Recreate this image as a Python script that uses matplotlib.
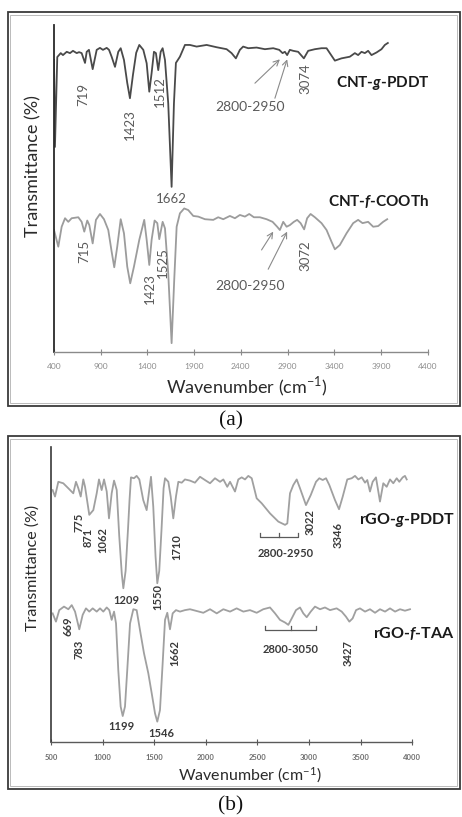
import numpy as np
import matplotlib
matplotlib.use("Agg")
import matplotlib.pyplot as plt
from matplotlib.patches import Rectangle

plt.rcParams['font.family'] = ['Lato', 'DejaVu Sans']
plt.rcParams['mathtext.fontset'] = 'custom'
plt.rcParams['mathtext.rm'] = 'Lato'
plt.rcParams['mathtext.it'] = 'Lato:italic:bold'

# ---------------- panel (a) data: CNT samples ----------------
a_ticks = [400, 900, 1400, 1900, 2400, 2900, 3400, 3900, 4400]

cnt_pddt_wn = [400, 410, 435, 472, 496, 536, 571, 603, 643, 668,
               696, 732, 750, 774, 814, 857, 892, 924, 964, 989,
               1017, 1053, 1088, 1114, 1149, 1184, 1213, 1245, 1280, 1313,
               1356, 1392, 1420, 1445, 1470, 1491, 1516, 1542, 1563, 1588,
               1623, 1659, 1684, 1705, 1748, 1802, 1855, 1927, 2034, 2141,
               2248, 2301, 2347, 2390, 2425, 2479, 2569, 2658, 2747, 2811,
               2847, 2872, 2896, 2925, 2961, 3014, 3075, 3121, 3193, 3264,
               3318, 3353, 3407, 3478, 3567, 3621, 3656, 3692, 3728, 3763,
               3799, 3853, 3906, 3942, 3974]
cnt_pddt_t = [89.3, 62.7, 90.2, 91.4, 90.8, 91.8, 91.4, 92.1, 91.4, 91.7,
              91.4, 88.4, 91.8, 92.4, 86.5, 92.4, 93.0, 92.4, 93.0, 92.4,
              90.3, 87.2, 91.8, 92.9, 89.3, 82.3, 77.6, 84.7, 91.5, 93.9,
              92.4, 88.3, 79.6, 85.3, 91.8, 91.4, 86.2, 91.8, 92.9, 89.3,
              76.0, 50.5, 76.0, 88.4, 90.3, 93.9, 93.9, 93.4, 93.9, 93.2,
              92.6, 91.4, 89.8, 92.4, 93.4, 92.9, 93.1, 92.6, 92.9, 92.4,
              91.4, 91.8, 90.8, 92.4, 92.1, 91.8, 89.8, 92.1, 92.6, 92.9,
              92.9, 91.4, 89.1, 89.8, 90.3, 91.4, 90.8, 91.8, 91.4, 92.1,
              90.8, 91.6, 92.6, 93.9, 94.5]

cnt_cooth_wn = [400, 446, 482, 518, 553, 589, 660, 696, 724, 756,
                778, 814, 849, 892, 935, 981, 1017, 1045, 1077, 1114,
                1149, 1184, 1216, 1256, 1313, 1366, 1392, 1420, 1445, 1477,
                1506, 1527, 1563, 1588, 1623, 1659, 1687, 1713, 1748, 1794,
                1837, 1891, 1944, 2016, 2105, 2158, 2212, 2283, 2337, 2390,
                2444, 2490, 2540, 2604, 2676, 2740, 2789, 2818, 2854, 2890,
                2925, 2968, 3003, 3040, 3078, 3110, 3147, 3193, 3264, 3318,
                3371, 3407, 3460, 3532, 3603, 3656, 3703, 3763, 3817, 3870,
                3924, 3967]
cnt_cooth_t = [37.3, 32.2, 38.3, 40.9, 39.8, 40.9, 41.2, 39.8, 36.8, 40.2,
               38.8, 33.2, 40.4, 42.2, 40.6, 37.3, 30.7, 25.9, 32.2, 40.6,
               36.3, 26.1, 21.0, 26.1, 34.3, 40.4, 34.3, 26.6, 34.3, 40.2,
               39.4, 34.5, 39.8, 37.8, 24.0, 2.7, 22.0, 38.3, 42.4, 43.9,
               43.4, 41.6, 41.4, 40.6, 40.4, 41.2, 40.6, 41.6, 40.9, 41.9,
               41.4, 42.2, 41.2, 41.2, 40.6, 39.8, 38.3, 37.3, 39.8, 38.3,
               38.8, 39.8, 40.4, 39.4, 37.5, 40.9, 42.2, 41.2, 39.4, 37.3,
               33.7, 31.4, 32.7, 36.3, 39.4, 40.4, 39.4, 39.8, 38.3, 38.5,
               39.8, 40.6]

# peak labels (text, x, y, rotation)
a_top_labels = ["719", "1423", "1512", "1662", "3074"]
a_top_lx = [710, 1213, 1534, 1659, 3096]
a_top_ly = [78.7, 69.4, 79.5, 46.8, 83.6]
a_top_rot = [90, 90, 90, 0, 90]

a_bot_labels = ["715", "1423", "1525", "3072"]
a_bot_lx = [721, 1427, 1570, 3096]
a_bot_ly = [30.6, 19.3, 27.2, 29.4]

# ---------------- panel (b) data: rGO samples ----------------
b_ticks = [500, 1000, 1500, 2000, 2500, 3000, 3500, 4000]

rgo_pddt_wn = [515, 538, 570, 618, 667, 715, 741, 764, 787, 812,
               829, 870, 909, 942, 964, 990, 1013, 1039, 1061, 1087,
               1110, 1136, 1160, 1185, 1200, 1222, 1245, 1260, 1274, 1303,
               1329, 1355, 1393, 1426, 1451, 1468, 1490, 1512, 1529, 1548,
               1570, 1590, 1604, 1636, 1659, 1684, 1710, 1733, 1766, 1797,
               1846, 1894, 1943, 1991, 2040, 2088, 2137, 2169, 2207, 2234,
               2282, 2314, 2347, 2379, 2411, 2444, 2492, 2541, 2621, 2702,
               2767, 2789, 2815, 2847, 2880, 2912, 2970, 3016, 3067, 3099,
               3132, 3164, 3196, 3251, 3290, 3326, 3370, 3413, 3445, 3477,
               3510, 3542, 3564, 3590, 3616, 3648, 3687, 3719, 3752, 3784,
               3816, 3849, 3874, 3907, 3929, 3946]
rgo_pddt_t = [85.4, 83.2, 88.2, 87.7, 86.0, 84.3, 88.2, 86.0, 83.2, 89.0,
              86.5, 77.0, 78.6, 84.3, 89.0, 85.4, 89.0, 84.9, 75.8, 84.3,
              88.6, 85.4, 70.0, 57.0, 52.1, 58.0, 72.0, 82.0, 89.7, 89.4,
              90.2, 89.0, 82.0, 78.6, 85.4, 89.9, 79.8, 63.0, 53.8, 58.0,
              72.0, 86.0, 89.4, 88.2, 83.2, 75.8, 83.2, 88.2, 87.9, 89.0,
              88.6, 87.9, 89.9, 88.8, 87.7, 89.4, 88.2, 89.0, 86.5, 88.2,
              84.9, 89.0, 89.7, 89.0, 90.2, 89.4, 82.6, 80.9, 77.5, 74.7,
              73.6, 74.1, 84.3, 87.1, 89.0, 86.0, 80.3, 83.7, 88.2, 89.4,
              88.8, 89.4, 87.1, 82.0, 78.9, 83.2, 89.0, 89.4, 90.2, 89.0,
              89.7, 87.9, 88.8, 84.9, 88.2, 89.7, 81.5, 87.7, 86.5, 89.0,
              87.7, 89.4, 88.2, 89.7, 90.2, 89.0]

rgo_taa_wn = [515, 547, 579, 625, 667, 700, 732, 773, 806, 838,
              870, 903, 942, 974, 1006, 1039, 1064, 1087, 1110, 1129,
              1151, 1174, 1194, 1216, 1238, 1265, 1297, 1329, 1361, 1400,
              1442, 1475, 1507, 1529, 1555, 1581, 1604, 1626, 1652, 1678,
              1710, 1749, 1797, 1846, 1911, 1975, 2040, 2105, 2169, 2234,
              2298, 2363, 2427, 2492, 2556, 2621, 2670, 2718, 2767, 2799,
              2832, 2873, 2912, 2944, 2977, 3016, 3057, 3106, 3154, 3203,
              3267, 3316, 3357, 3390, 3422, 3455, 3493, 3542, 3590, 3639,
              3687, 3736, 3784, 3833, 3881, 3929, 3978]
rgo_taa_t = [43.6, 40.8, 44.7, 45.9, 45.0, 46.4, 44.2, 38.2, 43.1, 45.3,
             44.2, 45.3, 44.2, 45.3, 44.2, 45.6, 44.7, 41.4, 44.2, 40.2,
             24.4, 12.0, 8.8, 12.0, 24.4, 40.2, 45.0, 44.7, 38.0, 30.1,
             23.3, 16.5, 9.7, 6.9, 10.8, 26.7, 41.4, 43.8, 38.2, 43.6,
             44.7, 44.2, 44.7, 45.0, 44.4, 43.8, 45.0, 43.6, 45.0, 44.2,
             45.3, 44.2, 44.7, 43.8, 45.0, 45.6, 43.6, 41.4, 40.5, 39.7,
             41.9, 44.7, 45.6, 43.6, 42.3, 44.2, 45.9, 45.0, 45.6, 44.7,
             45.3, 44.2, 42.5, 40.8, 41.9, 44.7, 45.3, 44.2, 45.0, 43.8,
             45.0, 44.2, 45.3, 44.2, 45.0, 44.5, 45.0]

b_top_labels = ["775", "871", "1062", "1209", "1539", "1710", "3022", "3346"]
b_top_labels[4] = "1550"
b_top_lx = [774, 860, 1006, 1226, 1539, 1717, 3009, 3283]
b_top_ly = [74.6, 69.5, 68.5, 48.1, 49.0, 66.0, 74.6, 70.0]
b_top_rot = [90, 90, 90, 0, 90, 90, 90, 90]

b_bot_labels = ["669", "783", "1199", "1546", "1662", "3427"]
b_bot_lx = [667, 770, 1184, 1572, 1700, 3380]
b_bot_ly = [39.3, 31.5, 5.1, 3.0, 30.2, 30.2]
b_bot_rot = [90, 90, 0, 0, 90, 90]

# bracket spans for band regions in (b): (start, end, level)
b_bands = ["2800-2950", "2800-3050"]
b_band_x0 = [2521, 2573]
b_band_x1 = [2893, 3067]
b_band_y = [69.6, 38.0]
b_band_text_x = [2776, 2816]
b_band_text_y = [63.9, 31.4]

fig = plt.figure(figsize=(4.62, 8.17), dpi=100)

# panel frames
for y0, h in [(0.503, 0.4823), (0.0343, 0.432)]:
    fig.patches.append(Rectangle((0.017, y0), 0.978, h, transform=fig.transFigure,
                                 fill=False, ec='#3a3a3a', lw=1.3))
    fig.patches.append(Rectangle((0.022, y0 + 0.0035), 0.968, h - 0.007,
                                 transform=fig.transFigure, fill=False, ec='#b0b0b0', lw=0.6))

# ---- panel (a) ----
ax = fig.add_axes([0.1169, 0.5692, 0.8087, 0.4002])
ax.plot(cnt_pddt_wn, cnt_pddt_t, color='#4a4a4a', lw=1.3)
ax.plot(cnt_cooth_wn, cnt_cooth_t, color='#9c9c9c', lw=1.3)
ax.set_xlim(400, 4400)
ax.set_ylim(0, 100)
ax.set_xticks(a_ticks)
ax.set_yticks([])
for s in ['top', 'right']:
    ax.spines[s].set_visible(False)
ax.spines['left'].set_color('#2a2a2a')
ax.spines['left'].set_linewidth(1.3)
ax.spines['bottom'].set_color('#8a8a8a')
ax.spines['bottom'].set_linewidth(1.0)
ax.tick_params(axis='x', direction='inout', length=4, width=0.8, color='#8a8a8a',
               labelsize=6, labelcolor='#8c8c8c', pad=6)

for lab, x, y, r in zip(a_top_labels, a_top_lx, a_top_ly, a_top_rot):
    ax.text(x, y, lab, rotation=r, ha='center', va='center', fontsize=9.5, color='#5a5a5a')
for lab, x, y in zip(a_bot_labels, a_bot_lx, a_bot_ly):
    ax.text(x, y, lab, rotation=90, ha='center', va='center', fontsize=9.5, color='#5a5a5a')

ax.text(2497, 74.9, "2800-2950", ha='center', va='center', fontsize=10, color='#5a5a5a')
ax.text(2497, 20.3, "2800-2950", ha='center', va='center', fontsize=10, color='#5a5a5a')
arrow = dict(arrowstyle='->', color='#8a8a8a', lw=0.8, shrinkA=0, shrinkB=0)
ax.annotate('', xy=(2818, 89.5), xytext=(2551, 82.2), arrowprops=arrow)
ax.annotate('', xy=(2896, 89.5), xytext=(2765, 77.6), arrowprops=arrow)
ax.annotate('', xy=(2747, 36.8), xytext=(2622, 31.2), arrowprops=arrow)
ax.annotate('', xy=(2896, 36.8), xytext=(2693, 25.3), arrowprops=arrow)

ax.text(4420, 82.3, "CNT-$g$-PDDT", ha='right', va='center', fontsize=11,
        fontweight='bold', color='#1a1a1a')
ax.text(4420, 46.0, "CNT-$f$-COOTh", ha='right', va='center', fontsize=11,
        fontweight='bold', color='#1a1a1a')
ax.text(0.517, -0.107, r"Wavenumber (cm$^{\mathregular{-1}}$)", transform=ax.transAxes,
        ha='center', va='center', fontsize=13, color='#2a2a2a')
ax.text(-0.056, 0.569, "Transmittance (%)", transform=ax.transAxes, rotation=90,
        ha='center', va='center', fontsize=13, color='#2a2a2a')

# ---- panel (b) ----
bx = fig.add_axes([0.1106, 0.0918, 0.7818, 0.3611])
bx.plot(rgo_pddt_wn, rgo_pddt_t, color='#a0a0a0', lw=1.3)
bx.plot(rgo_taa_wn, rgo_taa_t, color='#a0a0a0', lw=1.3)
bx.set_xlim(500, 4000)
bx.set_ylim(0, 100)
bx.set_xticks(b_ticks)
bx.set_yticks([])
for s in ['top', 'right']:
    bx.spines[s].set_visible(False)
bx.spines['left'].set_color('#3a3a3a')
bx.spines['left'].set_linewidth(1.2)
bx.spines['bottom'].set_color('#5a5a5a')
bx.spines['bottom'].set_linewidth(1.0)
bx.tick_params(axis='x', direction='inout', length=4, width=0.8, color='#5a5a5a',
               labelsize=5.5, labelcolor='#6e6e6e', pad=7)
for t in bx.get_xticklabels():
    t.set_fontweight('bold')

for lab, x, y, r in zip(b_top_labels, b_top_lx, b_top_ly, b_top_rot):
    bx.text(x, y, lab, rotation=r, ha='center', va='center', fontsize=8,
            fontweight='bold', color='#3a3a3a')
for lab, x, y, r in zip(b_bot_labels, b_bot_lx, b_bot_ly, b_bot_rot):
    bx.text(x, y, lab, rotation=r, ha='center', va='center', fontsize=8,
            fontweight='bold', color='#3a3a3a')

for lab, x0, x1, y, tx, ty in zip(b_bands, b_band_x0, b_band_x1, b_band_y,
                                  b_band_text_x, b_band_text_y):
    bx.plot([x0, x0, x1, x1], [y + 1.2, y, y, y + 1.2], color='#5a5a5a', lw=0.9)
    bx.plot([(x0 + x1) / 2] * 2, [y, y + 1.2], color='#5a5a5a', lw=0.9)
    bx.text(tx, ty, lab, ha='center', va='center', fontsize=8, fontweight='bold',
            color='#3a3a3a')

bx.text(4414, 75.2, "rGO-$g$-PDDT", ha='right', va='center', fontsize=11.5,
        fontweight='bold', color='#1a1a1a')
bx.text(4414, 36.8, "rGO-$f$-TAA", ha='right', va='center', fontsize=11.5,
        fontweight='bold', color='#1a1a1a')
bx.text(0.551, -0.112, r"Wavenumber (cm$^{\mathregular{-1}}$)", transform=bx.transAxes,
        ha='center', va='center', fontsize=11.5, color='#2a2a2a')
bx.text(-0.050, 0.59, "Transmittance (%)", transform=bx.transAxes, rotation=90,
        ha='center', va='center', fontsize=11.5, color='#2a2a2a')

fig.text(0.5, 0.4847, "(a)", ha='center', va='center', fontsize=15.5,
         family='Liberation Serif', color='#111111')
fig.text(0.5, 0.0135, "(b)", ha='center', va='center', fontsize=15.5,
         family='Liberation Serif', color='#111111')

fig.savefig("out.png", dpi=100)
